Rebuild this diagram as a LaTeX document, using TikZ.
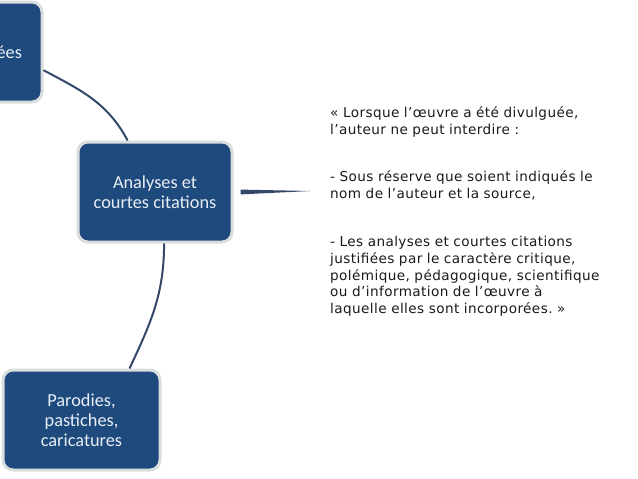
\documentclass[tikz,border=0pt]{standalone}
\usepackage{fontspec}
\setmainfont{Carlito}
\newfontfamily\quotefont[LetterSpace=3]{DejaVu Sans}
\usetikzlibrary{calc}
\definecolor{boxblue}{HTML}{1F4A7E}
\definecolor{boxrim}{HTML}{D9DDDD}
\definecolor{boxtext}{HTML}{E8EEF4}
\definecolor{conncol}{HTML}{34476B}
\definecolor{quotecol}{HTML}{1A1A1A}
\tikzset{
  x=1pt, y=-1pt,
  bluebox/.style={rectangle, rounded corners=10pt, fill=boxblue, draw=boxrim,
    line width=3pt, minimum width=154pt, minimum height=100pt, align=center,
    text=boxtext, font=\fontsize{18.3}{20}\selectfont, inner sep=2pt},
  conn/.style={draw=conncol, line width=2pt},
}
\frenchspacing
\begin{document}
\begin{tikzpicture}
\useasboundingbox (0,0) rectangle (638,479);
\node[bluebox, minimum width=124pt] (n1) at (-20,52) {\makebox[84pt][r]{ées}};
\node[bluebox] (an) at (155,192) {\raisebox{-2pt}{\shortstack{Analyses et\\[1pt]courtes citations}}};
\node[bluebox, minimum width=157pt] (pa) at (81.5,420) {Parodies,\\pastiches,\\caricatures};
\coordinate (tend) at (311,191);
\node[anchor=north west, text width=300pt, align=left, inner sep=0pt,
  text=quotecol, font=\quotefont\fontsize{13.6}{16.8}\selectfont] (q) at (330,106.7)
  {« Lorsque l’œuvre a été divulguée,\\ l’auteur ne peut interdire :\\[30.5pt]
   - Sous réserve que soient indiqués le\\ nom de l’auteur et la source,\\[31pt]
   - Les analyses et courtes citations\\ justifiées par le caractère critique,\\ polémique, pédagogique, scientifique\\ ou d’information de l’œuvre à\\ laquelle elles sont incorporées. »};
\draw[conn] (n1.-16) to[out=-28, in=118] (an.118);
\draw[conn] (an.-80) to[out=-90, in=65] (pa.47);
\fill[conncol] ($(an.east)+(7,-2.4)$) -- (tend) -- ($(an.east)+(7,2.4)$) -- cycle;
\end{tikzpicture}
\end{document}
